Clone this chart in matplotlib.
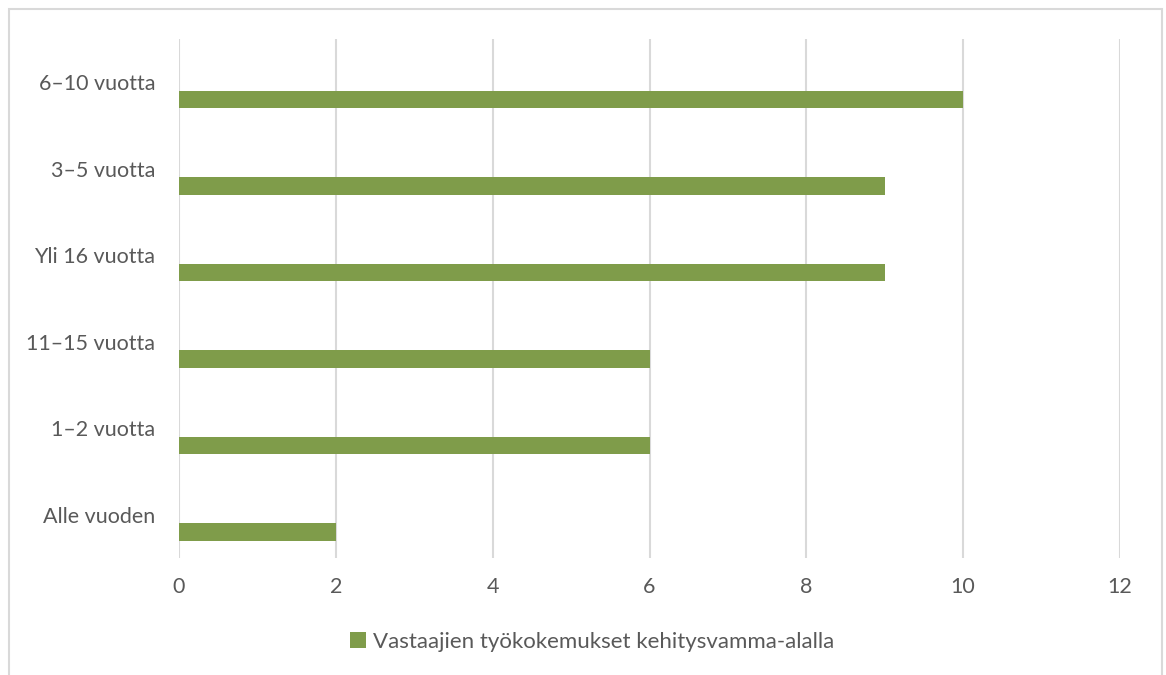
import matplotlib
matplotlib.use("Agg")
import matplotlib.pyplot as plt
from matplotlib.patches import Rectangle

# categories from bottom to top
categories = ["Alle vuoden", "1\u20132 vuotta", "11\u201315 vuotta",
              "Yli 16 vuotta", "3\u20135 vuotta", "6\u201310 vuotta"]
values = [2, 6, 6, 9, 9, 10]
series_name = "Vastaajien työkokemukset kehitysvamma-alalla"
xticks = [0, 2, 4, 6, 8, 10, 12]

plt.rcParams['font.family'] = ['Lato', 'DejaVu Sans']
text_color = "#595959"
grid_color = "#D9D9D9"
bar_color = "#7F9C4A"

fig = plt.figure(figsize=(11.66, 6.75), dpi=100)
ax = fig.add_axes([179 / 1166, 1 - 558 / 675, (1120 - 179) / 1166, (558 - 39) / 675])

pos = list(range(len(categories)))
ax.barh([p - 0.2 for p in pos], values, height=0.2, color=bar_color,
        label=series_name, zorder=3)

ax.set_xlim(0, 12)
ax.set_ylim(-0.5, len(categories) - 0.5)
ax.set_xticks(xticks)
ax.set_xticklabels([str(t) for t in xticks])
ax.set_yticks(pos)
ax.set_yticklabels(categories)
ax.tick_params(axis='both', length=0, labelsize=15.5, colors=text_color)
ax.tick_params(axis='x', pad=14)
ax.tick_params(axis='y', pad=17)
ax.xaxis.grid(True, color=grid_color, linewidth=1.5, zorder=0)
for s in ax.spines.values():
    s.set_visible(False)

fig.legend(loc='center', bbox_to_anchor=(592 / 1166, 1 - 642 / 675),
           frameon=False, fontsize=16, labelcolor=text_color,
           handlelength=0.75, handleheight=0.75, handletextpad=0.3)

fig.patches.append(Rectangle((9 / 1166, -0.05), (1162 - 9) / 1166, 1.05 - 9 / 675,
                             transform=fig.transFigure, fill=False,
                             edgecolor=grid_color, linewidth=1.5))

fig.savefig("out.png", dpi=100)
